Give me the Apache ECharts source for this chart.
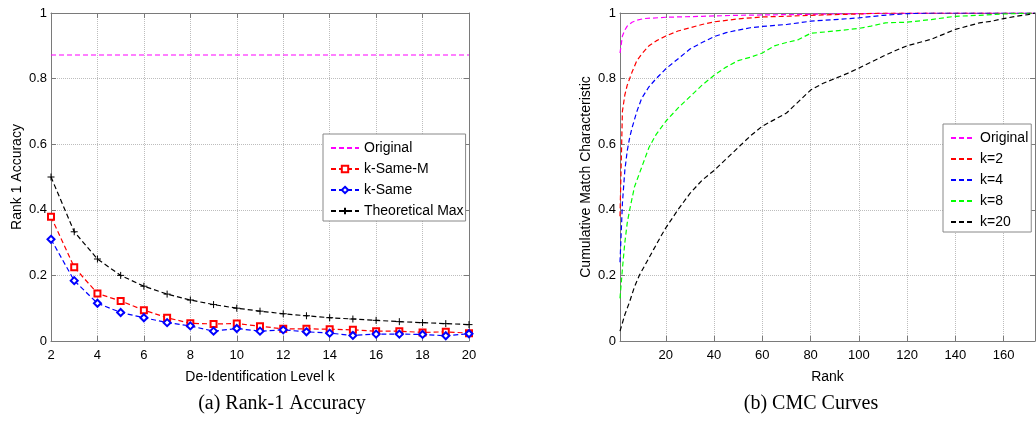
<!DOCTYPE html>
<html>
<head>
<meta charset="utf-8">
<script src="https://cdn.jsdelivr.net/npm/echarts@6/dist/echarts.min.js"></script>
<style>
html,body{margin:0;padding:0;background:#fff;}
#chart{width:1036px;height:426px;}
</style>
</head>
<body>
<div id="chart"></div>
<script>
// ---- Left panel: Rank-1 accuracy vs de-identification level k ----
const kLevels = [2,3,4,5,6,7,8,9,10,11,12,13,14,15,16,17,18,19,20];
const accOriginal = [0.872,0.872,0.872,0.872,0.872,0.872,0.872,0.872,0.872,0.872,0.872,0.872,0.872,0.872,0.872,0.872,0.872,0.872,0.872];
const accKSameM = [0.379,0.225,0.145,0.122,0.094,0.071,0.054,0.052,0.053,0.045,0.037,0.037,0.036,0.034,0.030,0.030,0.026,0.028,0.024];
const accKSame = [0.310,0.184,0.115,0.087,0.071,0.056,0.046,0.030,0.038,0.030,0.034,0.028,0.024,0.017,0.021,0.021,0.020,0.016,0.022];
const accTheoMax = [0.5,0.333,0.25,0.2,0.167,0.143,0.125,0.111,0.1,0.091,0.083,0.077,0.071,0.067,0.063,0.059,0.056,0.053,0.05];

// ---- Right panel: CMC curves, [rank, cumulative match] ----
const cmcOriginal = [[1,0.878],[2,0.93],[3,0.948],[4,0.96],[6,0.972],[8,0.978],[11,0.983],[20,0.987],[35,0.99],[50,0.993],[70,0.995],[90,0.997],[110,0.999],[130,1],[173,1]];
const cmcK2 = [[1,0.38],[2,0.70],[3,0.75],[4,0.78],[5,0.80],[6,0.82],[8,0.855],[10,0.875],[13,0.90],[16,0.915],[20,0.93],[25,0.945],[30,0.955],[35,0.965],[40,0.973],[50,0.982],[60,0.988],[70,0.99],[80,0.993],[90,0.995],[100,0.997],[110,1],[173,1]];
const cmcK4 = [[1,0.24],[2,0.42],[3,0.52],[4,0.58],[5,0.62],[6,0.65],[8,0.70],[10,0.74],[13,0.775],[16,0.80],[20,0.83],[25,0.86],[30,0.89],[35,0.91],[40,0.928],[45,0.94],[50,0.948],[55,0.955],[60,0.959],[70,0.965],[80,0.975],[90,0.98],[100,0.985],[110,0.993],[120,0.998],[130,1],[173,1]];
const cmcK8 = [[1,0.13],[2,0.22],[3,0.30],[4,0.36],[5,0.40],[7,0.47],[10,0.53],[13,0.59],[16,0.63],[20,0.67],[25,0.71],[30,0.745],[35,0.78],[40,0.81],[45,0.835],[50,0.855],[55,0.865],[60,0.878],[65,0.90],[70,0.91],[75,0.919],[80,0.938],[90,0.945],[100,0.953],[105,0.96],[111,0.97],[120,0.972],[130,0.98],[140,0.99],[150,0.993],[160,0.997],[173,1]];
const cmcK20 = [[1,0.03],[3,0.08],[5,0.12],[7,0.165],[9,0.2],[12,0.24],[15,0.28],[18,0.32],[20,0.345],[25,0.40],[30,0.45],[35,0.49],[40,0.52],[45,0.555],[50,0.59],[55,0.625],[60,0.655],[65,0.675],[70,0.695],[75,0.73],[80,0.765],[85,0.785],[90,0.80],[95,0.815],[100,0.832],[105,0.85],[110,0.868],[115,0.885],[120,0.90],[125,0.91],[130,0.92],[135,0.935],[140,0.95],[145,0.96],[150,0.97],[155,0.975],[160,0.983],[165,0.99],[170,0.995],[173,1]];
const rankTicks = [20,40,60,80,100,120,140,160];
const rankRange = [1,173];

const leftNames = ['Original','k-Same-M','k-Same','Theoretical Max'];
const rightNames = ['Original','k=2','k=4','k=8','k=20'];
const captions = ['(a) Rank-1 Accuracy','(b) CMC Curves'];

const FONT = 'Liberation Sans, Arial, sans-serif';
const SERIF = '20px "Liberation Serif", "Times New Roman", serif';
const axisGray = '#7a7a7a';
const gridLine = {show:true, lineStyle:{color:'#bdbdbd', type:'dotted', width:1}};
const dash = [5,3];
const noSymbol = {color:'rgba(0,0,0,0)', borderWidth:0, opacity:0};

function mainX(gridIndex, extra){
  return Object.assign({
    gridIndex, type:'value', position:'bottom',
    axisLine:{show:true, onZero:false, lineStyle:{color:axisGray}},
    axisTick:{show:true, inside:true, length:5, lineStyle:{color:axisGray}},
    axisLabel:{color:'#000', fontSize:13, fontFamily:FONT, margin:8},
    splitLine:gridLine,
    nameLocation:'middle', nameGap:29,
    nameTextStyle:{color:'#000', fontSize:14, fontFamily:FONT}
  }, extra);
}
function topX(gridIndex, extra){
  return Object.assign({
    gridIndex, type:'value', position:'top',
    axisLine:{show:true, onZero:false, lineStyle:{color:axisGray}},
    axisTick:{show:true, inside:true, length:5, lineStyle:{color:axisGray}},
    axisLabel:{show:false}, splitLine:{show:false}
  }, extra);
}
function mainY(gridIndex, name, gap){
  return {
    gridIndex, type:'value', min:0, max:1, interval:0.2, position:'left',
    axisLine:{show:true, onZero:false, lineStyle:{color:axisGray}},
    axisTick:{show:true, inside:true, length:5, lineStyle:{color:axisGray}},
    axisLabel:{color:'#000', fontSize:13, fontFamily:FONT, margin:4},
    splitLine:gridLine,
    name, nameLocation:'middle', nameGap:gap,
    nameTextStyle:{color:'#000', fontSize:14, fontFamily:FONT}
  };
}
function rightY(gridIndex){
  return {
    gridIndex, type:'value', min:0, max:1, interval:0.2, position:'right',
    axisLine:{show:true, onZero:false, lineStyle:{color:axisGray}},
    axisTick:{show:true, inside:true, length:5, lineStyle:{color:axisGray}},
    axisLabel:{show:false}, splitLine:{show:false}
  };
}

function lineSeries(name, color, data, xi, yi, symbol, size){
  return {
    name, type:'line', xAxisIndex:xi, yAxisIndex:yi, data,
    color, symbol: symbol || 'none', symbolSize: size || 0, showSymbol: !!symbol,
    lineStyle:{color, width:1.2, type:dash},
    itemStyle:{color, borderColor:color, borderWidth:1},
    animation:false, z:3
  };
}

const chart = echarts.init(document.getElementById('chart'));
const option = {
  backgroundColor:'#fff',
  animation:false,
  grid:[
    {left:51, top:13, width:418, height:328},
    {left:620, top:13, width:415, height:328}
  ],
  xAxis:[
    mainX(0, {min:2, max:20, interval:2, name:'De-Identification Level k'}),
    topX(0, {min:2, max:20, interval:2}),
    mainX(1, {min:rankRange[0], max:rankRange[1], name:'Rank',
      axisTick:{show:true, inside:true, length:5, lineStyle:{color:axisGray}, customValues:rankTicks},
      axisLabel:{color:'#000', fontSize:13, fontFamily:FONT, margin:8, customValues:rankTicks}}),
    topX(1, {min:rankRange[0], max:rankRange[1],
      axisTick:{show:true, inside:true, length:5, lineStyle:{color:axisGray}, customValues:rankTicks}})
  ],
  yAxis:[
    mainY(0, 'Rank 1 Accuracy', 27),
    rightY(0),
    mainY(1, 'Cumulative Match Characteristic', 27),
    rightY(1)
  ],
  legend:[
    {
      data: leftNames.map((n,i)=> i===0 ? {name:n, itemStyle:noSymbol} : {name:n}),
      orient:'vertical', left:323, top:134,
      padding:[7,2,3,7], itemWidth:28, itemHeight:8, itemGap:7, itemTextGap:3,
      backgroundColor:'#fff', borderColor:'#888', borderWidth:1, borderRadius:0,
      textStyle:{color:'#000', fontSize:14, fontFamily:FONT}
    },
    {
      data: rightNames.map(n=>({name:n, itemStyle:noSymbol})),
      orient:'vertical', left:943, top:124,
      padding:[7,3,3,7], itemWidth:24, itemHeight:14, itemGap:7, itemTextGap:6,
      backgroundColor:'#fff', borderColor:'#888', borderWidth:1, borderRadius:0,
      textStyle:{color:'#000', fontSize:14, fontFamily:FONT}
    }
  ],
  series:[
    lineSeries('Original', '#ff00ff', kLevels.map((k,i)=>[k, accOriginal[i]]), 0, 0),
    lineSeries('k-Same-M', '#ff0000', kLevels.map((k,i)=>[k, accKSameM[i]]), 0, 0, 'emptyRect', 6),
    lineSeries('k-Same', '#0000ff', kLevels.map((k,i)=>[k, accKSame[i]]), 0, 0, 'emptyDiamond', 7),
    lineSeries('Theoretical Max', '#000000', kLevels.map((k,i)=>[k, accTheoMax[i]]), 0, 0, 'path://M5,0L5,10M0,5L10,5', 7),
    lineSeries('Original', '#ff00ff', cmcOriginal, 2, 2),
    lineSeries('k=2', '#ff0000', cmcK2, 2, 2),
    lineSeries('k=4', '#0000ff', cmcK4, 2, 2),
    lineSeries('k=8', '#00ff00', cmcK8, 2, 2),
    lineSeries('k=20', '#000000', cmcK20, 2, 2)
  ],
  graphic:[
    {type:'text', x:282, y:394, style:{text:captions[0], fill:'#000', font:SERIF, align:'center', verticalAlign:'top'}},
    {type:'text', x:811, y:394, style:{text:captions[1], fill:'#000', font:SERIF, align:'center', verticalAlign:'top'}}
  ]
};
chart.setOption(option);
</script>
</body>
</html>
